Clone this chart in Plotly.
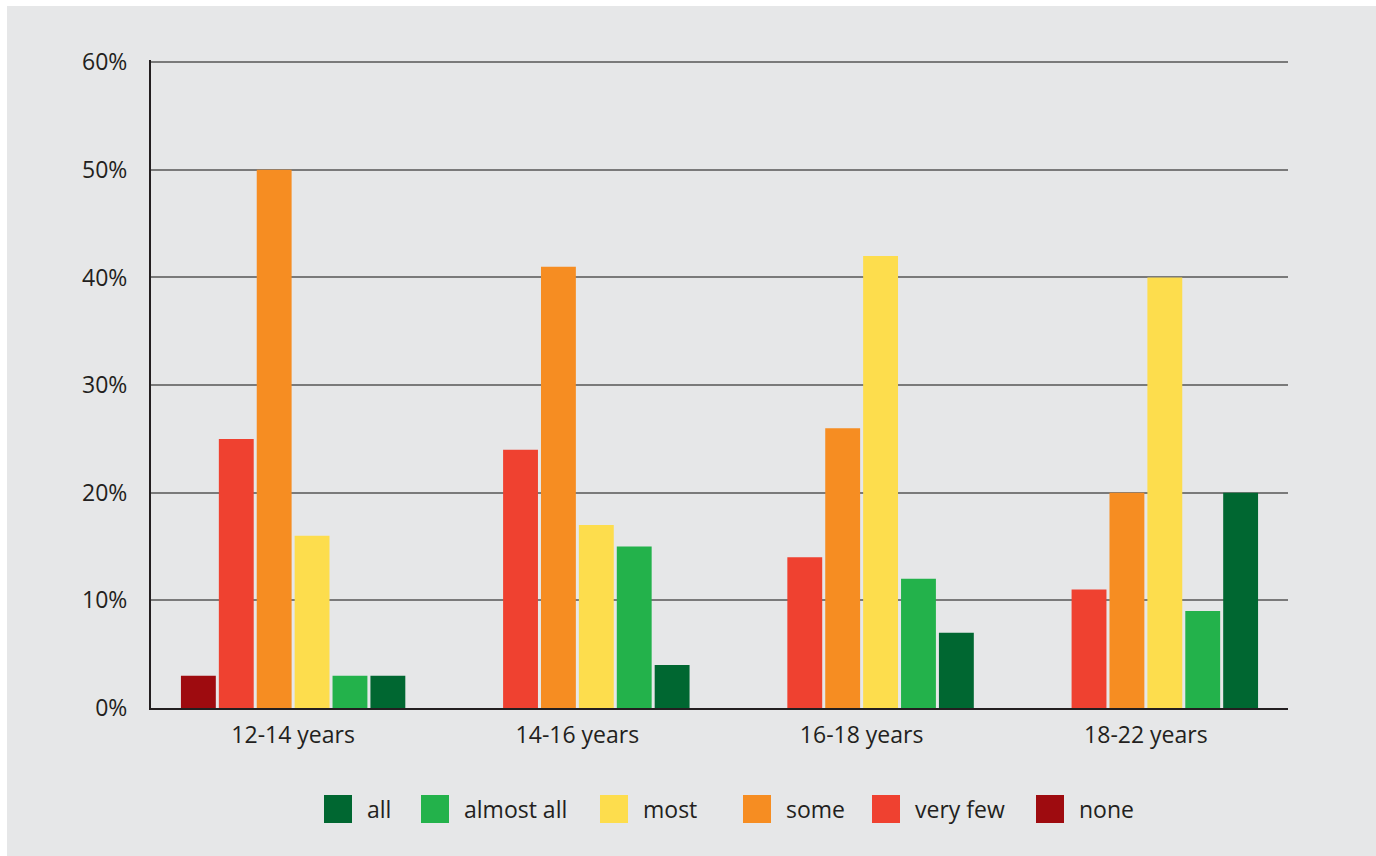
import plotly.graph_objects as go

# ---- data ----
categories = ["12-14 years", "14-16 years", "16-18 years", "18-22 years"]
series_names = ["none", "very few", "some", "most", "almost all", "all"]
none_vals = [3, 0, 0, 0]
very_few_vals = [25, 24, 14, 11]
some_vals = [50, 41, 26, 20]
most_vals = [16, 17, 42, 40]
almost_all_vals = [3, 15, 12, 9]
all_vals = [3, 4, 7, 20]
y_ticks = [0, 10, 20, 30, 40, 50, 60]
y_tick_labels = ["0%", "10%", "20%", "30%", "40%", "50%", "60%"]

series_values = [none_vals, very_few_vals, some_vals, most_vals, almost_all_vals, all_vals]
colors = ["#9e0b0f", "#ef4130", "#f68d22", "#fddd4d", "#23b24b", "#006731"]

W, H = 1376, 856
L, R, T, B = 151, 88, 60, 148
PW = W - L - R
PH = H - T - B
BG = "#e6e7e8"
TXT = "#231f20"
FONT = "Open Sans"
FS = 23


def px_x(px):
    return (px - L) / PW


def px_y(py):
    return (H - B - py) / PH


fig = go.Figure()
for name, vals, col in zip(series_names, series_values, colors):
    fig.add_trace(go.Bar(x=categories, y=vals, name=name, marker=dict(color=col, line=dict(width=0)),
                         showlegend=False))

shapes = [
    dict(type="rect", xref="paper", yref="paper", x0=px_x(7), x1=px_x(W + 5), y0=px_y(6), y1=px_y(H + 5),
         fillcolor=BG, line=dict(width=0), layer="below"),
]
annotations = []

# manual legend (order as in the reference)
legend_order = ["all", "almost all", "most", "some", "very few", "none"]
square_left = [324, 421, 600, 743, 872, 1036]
legend_cy = 809
sq = 28
for name, sx in zip(legend_order, square_left):
    col = colors[series_names.index(name)]
    shapes.append(dict(type="rect", xref="paper", yref="paper", x0=px_x(sx), x1=px_x(sx + sq),
                       y0=px_y(legend_cy + sq / 2), y1=px_y(legend_cy - sq / 2),
                       fillcolor=col, line=dict(width=0)))
    annotations.append(dict(xref="paper", yref="paper", x=px_x(sx + sq + 13), y=px_y(legend_cy),
                            xanchor="left", yanchor="middle", text=name, showarrow=False,
                            font=dict(family=FONT, size=FS, color=TXT)))

fig.update_layout(
    width=W, height=H,
    margin=dict(l=L, r=R, t=T, b=B, pad=0),
    paper_bgcolor="white",
    plot_bgcolor=BG,
    barmode="group",
    bargap=0.2,
    bargroupgap=0.08,
    shapes=shapes,
    annotations=annotations,
    showlegend=False,
    font=dict(family=FONT, size=FS, color=TXT),
    xaxis=dict(showline=True, linecolor="#231f20", linewidth=2, showgrid=False, ticks="",
               ticklabelstandoff=5, tickfont=dict(family=FONT, size=FS, color=TXT)),
    yaxis=dict(range=[0, 60.2], tickvals=y_ticks, ticktext=y_tick_labels, showline=True,
               linecolor="#231f20", linewidth=2, showgrid=True, gridcolor="#7a7a7a", gridwidth=1.5,
               zeroline=False, ticks="", ticklabelstandoff=17,
               tickfont=dict(family=FONT, size=FS, color=TXT)),
)

fig.write_html("out.html")
